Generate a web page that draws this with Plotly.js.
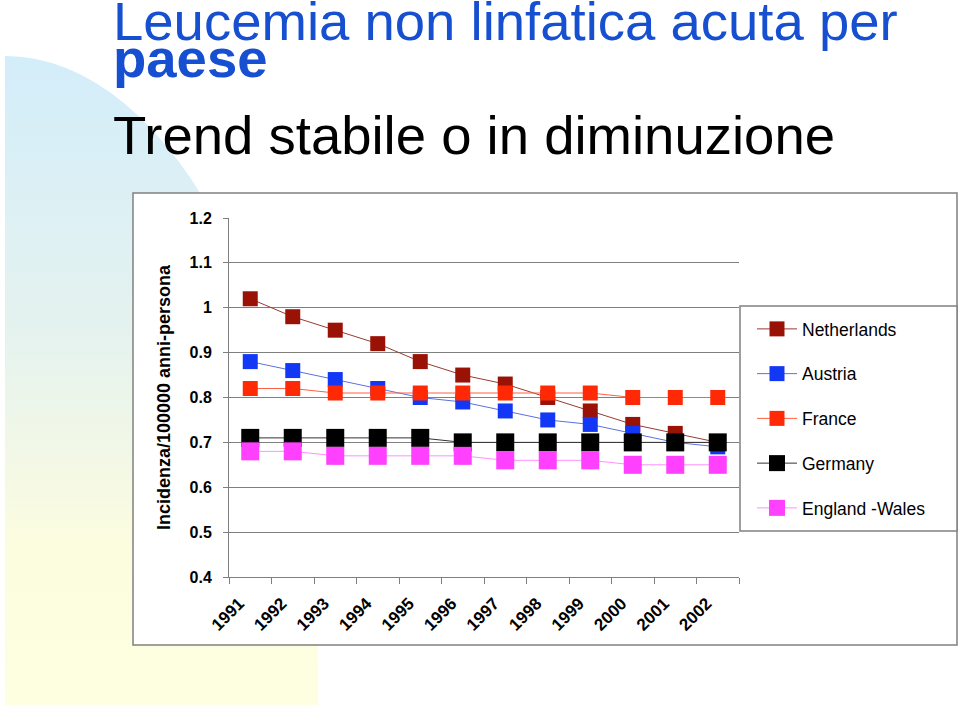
<!DOCTYPE html>
<html>
<head>
<meta charset="utf-8">
<script src="https://cdn.plot.ly/plotly-3.0.1.min.js"></script>
<style>
  html, body { margin: 0; padding: 0; background: #ffffff; }
  #bg {
    position: absolute; left: 5px; top: 56px; width: 313px; height: 649px;
    background: linear-gradient(to bottom, #d3edfa 0%, #e6f3ee 45%, #fcfcdf 75%, #fefee0 100%);
    border-top-right-radius: 313px 628px;
  }
  #chart { position: absolute; left: 0; top: 0; width: 960px; height: 707px; }
</style>
</head>
<body>
<div id="bg"></div>
<div id="chart"></div>
<script>
const years = ['1991','1992','1993','1994','1995','1996','1997','1998','1999','2000','2001','2002'];
const netherlands = [1.02, 0.98, 0.95, 0.92, 0.88, 0.85, 0.83, 0.80, 0.77, 0.74, 0.72, 0.70];
const austria     = [0.88, 0.86, 0.84, 0.82, 0.80, 0.79, 0.77, 0.75, 0.74, 0.72, 0.70, 0.69];
const france      = [0.82, 0.82, 0.81, 0.81, 0.81, 0.81, 0.81, 0.81, 0.81, 0.80, 0.80, 0.80];
const germany     = [0.71, 0.71, 0.71, 0.71, 0.71, 0.70, 0.70, 0.70, 0.70, 0.70, 0.70, 0.70];
const england     = [0.68, 0.68, 0.67, 0.67, 0.67, 0.67, 0.66, 0.66, 0.66, 0.65, 0.65, 0.65];
const seriesNames = ['Netherlands', 'Austria', 'France', 'Germany', 'England -Wales'];
const titleLine1 = 'Leucemia non linfatica acuta per';
const titleLine2 = 'paese';
const subtitle = 'Trend stabile o in diminuzione';
const yTitle = 'Incidenza/100000 anni-persona';

const seriesValues = [netherlands, austria, france, germany, england];
const markerColors = ['#9a1206', '#1238f5', '#ff2a05', '#000000', '#ff40ff'];
const lineColors   = ['#9a3a30', '#5c70e0', '#ff6040', '#333333', '#ff90ff'];
const markerSizes  = [15, 15, 15, 18, 18];

// plot area pixel geometry
const L = 229, R = 739, T = 218, B = 577, W = 960, H = 707;
const px = x => (x - L) / (R - L);
const py = y => (B - y) / (B - T);

const traces = seriesValues.map((vals, i) => ({
  type: 'scatter',
  mode: 'lines+markers',
  x: years,
  y: vals,
  name: seriesNames[i],
  legendgroup: 'g' + i,
  line: { color: lineColors[i], width: 1 },
  marker: { symbol: 'square', size: markerSizes[i], color: markerColors[i] },
  hoverinfo: 'x+y+name'
}));

const grey = '#7f7f7f';
const FF = 'Liberation Sans, Arial, sans-serif';
const layout = {
  width: W, height: H,
  margin: { l: L, r: W - R, t: T, b: H - B, pad: 0 },
  paper_bgcolor: 'rgba(0,0,0,0)',
  plot_bgcolor: 'rgba(0,0,0,0)',
  font: { family: FF, color: '#000000' },
  showlegend: true,
  legend: {
    x: px(752), y: py(311), xanchor: 'left', yanchor: 'top',
    bgcolor: 'rgba(0,0,0,0)', borderwidth: 0,
    font: { size: 17.5, family: FF, color: '#000' },
    tracegroupgap: 19, itemwidth: 40, traceorder: 'grouped'
  },
  xaxis: {
    type: 'category', range: [-0.5, 11.5], autorange: false,
    showline: true, linecolor: grey, linewidth: 1,
    ticks: 'outside', tickson: 'boundaries', ticklen: 6, tickcolor: grey, tickwidth: 1,
    tickangle: -45, ticklabelstandoff: 9, ticklabelshift: -11,
    tickfont: { size: 17, family: FF, weight: 'bold', color: '#000' },
    showgrid: false, zeroline: false, automargin: false, fixedrange: true
  },
  yaxis: {
    range: [0.4, 1.2], autorange: false, dtick: 0.1, tick0: 0.4,
    showline: true, linecolor: grey, linewidth: 1,
    ticks: 'outside', ticklen: 5, tickcolor: grey, tickwidth: 1,
    ticklabelstandoff: 8,
    tickfont: { size: 16, family: FF, weight: 'bold', color: '#000' },
    showgrid: true, gridcolor: grey, gridwidth: 1,
    zeroline: false, automargin: false, fixedrange: true,
    title: { text: yTitle, standoff: 14, font: { size: 18, family: FF, weight: 'bold', color: '#000' } }
  },
  shapes: [
    { type: 'rect', xref: 'paper', yref: 'paper', layer: 'below',
      x0: px(133), x1: px(957), y0: py(645), y1: py(193),
      fillcolor: '#ffffff', line: { color: '#808080', width: 1.5 } },
    { type: 'rect', xref: 'paper', yref: 'paper', layer: 'below',
      x0: px(740), x1: px(957), y0: py(531), y1: py(306),
      fillcolor: '#ffffff', line: { color: '#808080', width: 1.5 } }
  ],
  annotations: [
    { xref: 'paper', yref: 'paper', x: px(111), y: py(54), xanchor: 'left', yanchor: 'bottom',
      showarrow: false, text: titleLine1,
      font: { size: 54.5, family: FF, color: '#1650d0' } },
    { xref: 'paper', yref: 'paper', x: px(111), y: py(91), xanchor: 'left', yanchor: 'bottom',
      showarrow: false, text: '<b>' + titleLine2 + '</b>',
      font: { size: 54.5, family: FF, color: '#1650d0' } },
    { xref: 'paper', yref: 'paper', x: px(111), y: py(168), xanchor: 'left', yanchor: 'bottom',
      showarrow: false, text: subtitle,
      font: { size: 54.5, family: FF, color: '#000000' } }
  ]
};

Plotly.newPlot('chart', traces, layout, { displayModeBar: false, staticPlot: true });
</script>
</body>
</html>
